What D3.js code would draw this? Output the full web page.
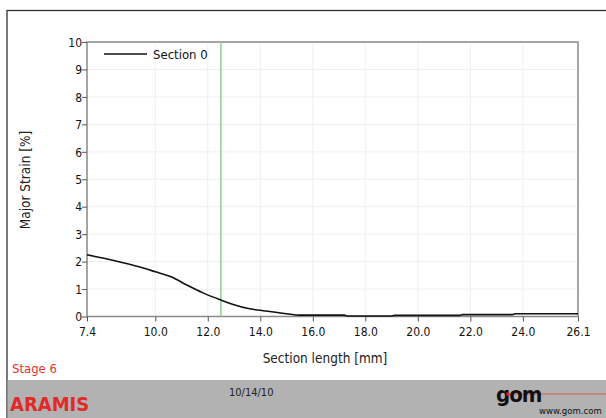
<!DOCTYPE html>
<html><head><meta charset="utf-8">
<script src="https://cdn.jsdelivr.net/npm/d3@7"></script>
<style>body{margin:0;background:#fff}svg{display:block}</style>
</head><body>
<script>
const xData = [7.4, 8.5, 9.3, 10.0, 10.6, 11.2, 11.8, 12.5, 13.0, 13.5, 14.2, 15.0, 15.5, 17.2, 17.3, 19.0, 19.1, 21.6, 21.7, 23.6, 23.7, 26.1];
const yData = [2.25, 2.02, 1.83, 1.63, 1.45, 1.15, 0.87, 0.6, 0.43, 0.3, 0.2, 0.1, 0.05, 0.05, 0.02, 0.02, 0.04, 0.04, 0.07, 0.07, 0.1, 0.1];
const xTicks = [7.4, 10.0, 12.0, 14.0, 16.0, 18.0, 20.0, 22.0, 24.0, 26.1];
const yTicks = [0,1,2,3,4,5,6,7,8,9,10];
const seriesName = "Section 0";
const markerX = 12.5;

const W=606,H=418;
const svg=d3.select("body").append("svg").attr("width",W).attr("height",H);
const font="DejaVu Sans Condensed, DejaVu Sans, sans-serif";
// frame
svg.append("rect").attr("x",7).attr("y",10.5).attr("width",610).attr("height",420).attr("fill","#fff").attr("stroke","#333").attr("stroke-width",1.3);
// footer
svg.append("rect").attr("x",7.7).attr("y",380).attr("width",600).attr("height",40).attr("fill","#b2b2b2");

const x=d3.scaleLinear().domain([7.4,26.1]).range([87,578]);
const y=d3.scaleLinear().domain([0,10]).range([316.5,42]);
const g=svg.append("g");
// grid
g.selectAll(".vg").data(xTicks).enter().append("line").attr("x1",d=>x(d)).attr("x2",d=>x(d)).attr("y1",y(0)).attr("y2",y(10)).attr("stroke","#efefef");
g.selectAll(".hg").data(yTicks).enter().append("line").attr("y1",d=>y(d)).attr("y2",d=>y(d)).attr("x1",x(7.4)).attr("x2",x(26.1)).attr("stroke","#efefef");
// frame of plot
g.append("rect").attr("x",x(7.4)).attr("y",y(10)).attr("width",x(26.1)-x(7.4)).attr("height",y(0)-y(10)).attr("fill","none").attr("stroke","#8a8a8a").attr("stroke-width",1.5);
// axes
const xa=g.append("g").attr("transform",`translate(0,${y(0)})`).call(d3.axisBottom(x).tickValues(xTicks).tickFormat(d3.format(".1f")).tickSize(5).tickSizeOuter(0));
const ya=g.append("g").attr("transform",`translate(${x(7.4)},0)`).call(d3.axisLeft(y).tickValues(yTicks).tickSize(5).tickSizeOuter(0));
[xa,ya].forEach(a=>{a.select(".domain").remove();a.selectAll("line").attr("stroke","#555");a.selectAll("text").attr("fill","#111").style("font-family",font).style("font-size","12px");});
xa.selectAll("text").attr("dy","0.95em");
ya.selectAll("text").attr("x",-5).attr("dy","0.35em");
// marker line
g.append("line").attr("x1",x(markerX)).attr("x2",x(markerX)).attr("y1",y(0)).attr("y2",y(10)).attr("stroke","#8fd18f").attr("stroke-width",1.5);
// series
const pts=xData.map((v,i)=>[v,yData[i]]);
g.append("path").datum(pts).attr("fill","none").attr("stroke","#111").attr("stroke-width",1.6)
 .attr("d",d3.line().x(d=>x(d[0])).y(d=>y(d[1])).curve(d3.curveMonotoneX));
// legend
g.append("line").attr("x1",104).attr("x2",147).attr("y1",54).attr("y2",54).attr("stroke","#111").attr("stroke-width",1.6);
g.append("text").attr("x",153).attr("y",58.5).text(seriesName).style("font-family",font).style("font-size","13px").attr("fill","#111");
// titles
svg.append("text").attr("x",325).attr("y",363).attr("text-anchor","middle").text("Section length [mm]").style("font-family",font).style("font-size","13.5px").attr("fill","#222");
svg.append("text").attr("transform","translate(30,180) rotate(-90)").attr("text-anchor","middle").text("Major Strain [%]").style("font-family",font).style("font-size","13.5px").attr("fill","#222");
svg.append("text").attr("x",12).attr("y",373).text("Stage 6").style("font-family",font).style("font-size","13px").attr("fill","#e8302e");
svg.append("text").attr("x",10).attr("y",411).text("ARAMIS").style("font-family",font).style("font-size","20px").style("font-weight","bold").attr("fill","#e02a28");
svg.append("text").attr("x",229).attr("y",396).text("10/14/10").style("font-family",font).style("font-size","11px").attr("fill","#222");
// gom logo
svg.append("line").attr("x1",508).attr("x2",606).attr("y1",394).attr("y2",394).attr("stroke","#e04040").attr("stroke-width",0.8);
svg.append("text").attr("x",496).attr("y",402).text("gom").style("font-family",font).style("font-size","22px").style("font-weight","bold").attr("fill","#111").attr("letter-spacing","-1");
svg.append("circle").attr("cx",508).attr("cy",394).attr("r",1.8).attr("fill","#e02a28");
svg.append("text").attr("x",539).attr("y",414).text("www.gom.com").style("font-family",font).style("font-size","9.5px").attr("fill","#111");
</script>
</body></html>
